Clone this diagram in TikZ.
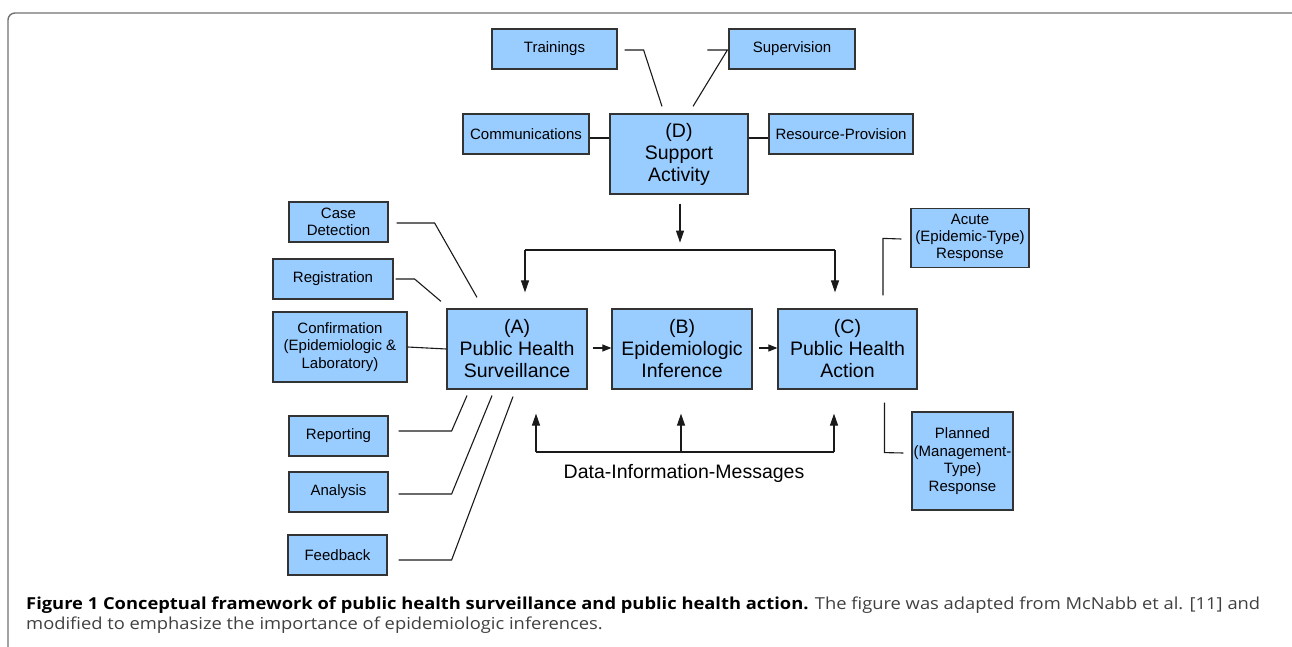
\documentclass[tikz,border=0pt]{standalone}
\usepackage{fontspec}
\setmainfont{Liberation Sans}
\newfontfamily\capfont{Open Sans}
\usetikzlibrary{arrows.meta,calc}
\definecolor{boxfill}{HTML}{99CCFF}
\definecolor{boxline}{HTML}{333333}
\definecolor{lineC}{HTML}{1A1A1A}
\definecolor{frameC}{HTML}{707070}
\definecolor{capgray}{HTML}{404040}
\newcommand\smallf{\fontsize{15}{17.5}\selectfont}
\newcommand\bigf{\fontsize{19.5}{22}\selectfont}
\newsavebox\capboxA
\newsavebox\capboxB
\tikzset{
  box/.style={draw=boxline, fill=boxfill, line width=1.2pt, inner sep=0pt, align=center, font=\smallf, text=black},
  bigbox/.style={box, font=\bigf, minimum width=140pt, minimum height=80pt},
  conn/.style={draw=lineC, line width=1.1pt},
  arr/.style={conn, -{Triangle[length=12pt,width=8pt]}},
  sarr/.style={conn, -{Triangle[length=9pt,width=7pt]}},
}
\begin{document}
\sbox\capboxA{\capfont\fontsize{16.5}{19}\selectfont\textbf{Figure 1 Conceptual framework of public health surveillance and public health action.} \textcolor{capgray}{The figure was adapted from McNabb et al. [11] and}}
\sbox\capboxB{\capfont\fontsize{16.5}{19}\selectfont\textcolor{capgray}{modified to emphasize the importance of epidemiologic inferences.}}
\begin{tikzpicture}[x=1pt,y=-1pt]
\useasboundingbox (0,0) rectangle (1292,647);
\pgfmathsetmacro\capr{1234/\wd\capboxA}
% frame
\draw[frameC, line width=1.4pt, rounded corners=7pt] (8,660) -- (8,13) -- (1300,13);

% support
\node[box, minimum width=125pt, minimum height=40pt] (tr) at (554.5,49) {Trainings};
\node[box, minimum width=126pt, minimum height=40pt] (su) at (792,49) {Supervision};
\node[box, minimum width=126pt, minimum height=40pt] (co) at (526,134) {Communications};
\node[bigbox, minimum width=138pt] (D) at (679,154) {(D)\\Support\\Activity};
\node[box, minimum width=144pt, minimum height=40pt] (rp) at (841,134) {Resource-Provision};

% left
\node[box, minimum width=99pt, minimum height=40pt] (cd) at (338.5,222) {Case\\Detection};
\node[box, minimum width=120pt, minimum height=40pt] (rg) at (333,279) {Registration};
\node[box, minimum width=134pt, minimum height=70pt] (cf) at (340,347) {Confirmation\\(Epidemiologic \&\\Laboratory)};
\node[box, minimum width=99pt, minimum height=40pt] (rep) at (338.5,436) {Reporting};
\node[box, minimum width=99pt, minimum height=40pt] (an) at (338.5,492) {Analysis};
\node[box, minimum width=99pt, minimum height=40pt] (fb) at (337.5,555) {Feedback};

% main
\node[bigbox] (A) at (517,349) {(A)\\Public Health\\Surveillance};
\node[bigbox] (B) at (682,349) {(B)\\Epidemiologic\\Inference};
\node[bigbox, minimum width=139pt] (C) at (847.5,349) {(C)\\Public Health\\Action};

% right
\node[box, minimum width=118pt, minimum height=59pt, font=\fontsize{15}{16.8}\selectfont] (ac) at (970,238) {Acute\\(Epidemic-Type)\\Response};
\node[box, minimum width=101pt, minimum height=98pt] (pl) at (962.5,461) {Planned\\(Management-\\Type)\\Response};

% support connectors
\draw[conn] ($(tr.east)+(7,1)$) -- ++(19,0) -- ($(D.north)+(-17,-7)$);
\draw[conn] ($(su.west)+(-21,1)$) -- ++(20,0) -- ($(D.north)+(14,-7)$);
\draw[conn] ($(co.east)+(0,4)$) -- ($(D.west)+(0,-16)$);
\draw[conn] ($(D.east)+(0,-16)$) -- ($(rp.west)+(0,4)$);

% left connectors
\draw[conn] ($(cd.east)+(8,1)$) -- ++(38,0) -- ($(A.north)+(-40,-11)$);
\draw[conn] ($(rg.east)+(2,0)$) -- ++(19,0) -- ($(A.north)+(-76,-7)$);
\draw[conn] (cf.east) -- (A.west);
\draw[conn] ($(rep.east)+(10,-5)$) -- ++(53,0) -- ($(A.south)+(-50,6)$);
\draw[conn] ($(an.east)+(10,2)$) -- ++(53,0) -- ($(A.south)+(-25,6)$);
\draw[conn] ($(fb.east)+(11,5)$) -- ++(53,0) -- ($(A.south)+(-4,7)$);

% right connectors
\draw[conn] ($(C.north)+(35.5,-13)$) -- ($(C.north)+(35.5,-70)$) -- ($(ac.west)+(-9,1)$);
\draw[conn] ($(C.south)+(37,13)$) -- ($(C.south)+(37,63)$) -- ($(pl.west)+(-8,-8)$);

% top bus
\coordinate (dsrc) at ($(D.south)+(1,9)$);
\draw[arr] (dsrc) -- ($(D.south)+(1,48)$);
\coordinate (tbl) at (525,250);
\coordinate (tbr) at (835,250);
\draw[conn] (tbl) -- (tbr);
\draw[arr] (tbl) -- ($(tbl |- A.north)+(0,-16)$);
\draw[arr] (tbr) -- ($(tbr |- C.north)+(0,-16)$);

% main flow
\draw[sarr] ($(A.east)+(5,-1)$) -- ($(B.west)+(0,-1)$);
\draw[sarr] ($(B.east)+(6,-1)$) -- ($(C.west)+(0,-1)$);

% bottom bus
\coordinate (bbl) at (536,452);
\coordinate (bbm) at (681,452);
\coordinate (bbr) at (834,452);
\draw[conn] (bbl) -- (bbr);
\draw[arr] (bbl) -- ($(bbl |- A.south)+(0,24)$);
\draw[arr] (bbm) -- ($(bbm |- B.south)+(0,24)$);
\draw[arr] (bbr) -- ($(bbr |- C.south)+(0,24)$);
\node[font=\bigf, inner sep=0pt] (dim) at (684,473) {Data-Information-Messages};

% caption
\node[anchor=base west, inner sep=0pt] (cap1) at (26,609) {\scalebox{\capr}[1]{\usebox\capboxA}};
\node[anchor=base west, inner sep=0pt] (cap2) at (26,629) {\scalebox{\capr}[1]{\usebox\capboxB}};
\end{tikzpicture}
\end{document}
